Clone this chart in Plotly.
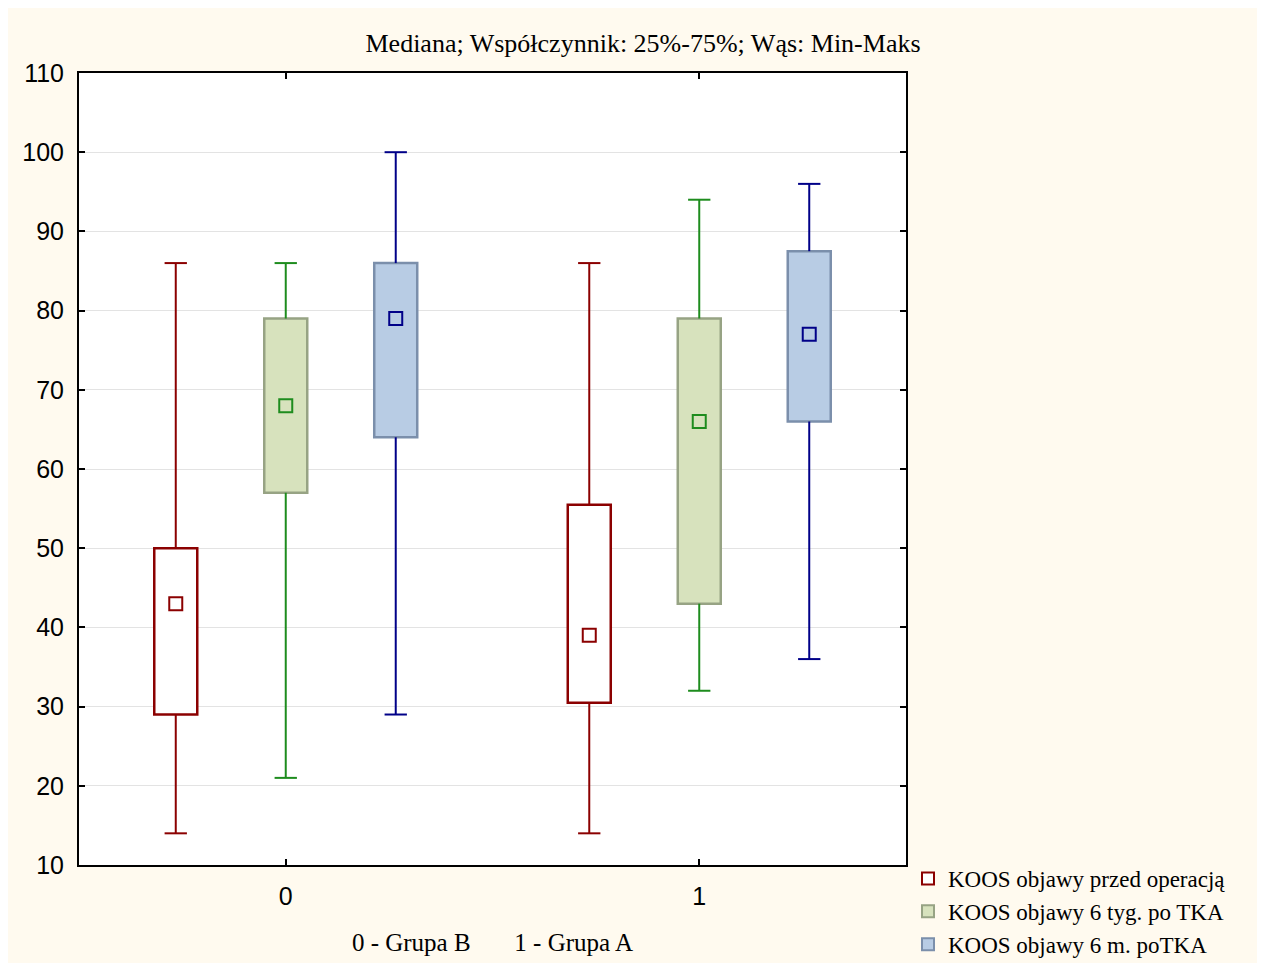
import plotly.graph_objects as go

# ---------------- data ----------------
groups = [0, 1]
group_labels = ["0", "1"]
series_names = ["KOOS objawy przed operacją", "KOOS objawy 6 tyg. po TKA", "KOOS objawy 6 m. poTKA"]

mins = {
    "pre": [14, 14],
    "w6": [21, 32],
    "m6": [29, 36],
}
q1s = {
    "pre": [29, 30.5],
    "w6": [57, 43],
    "m6": [64, 66],
}
medians = {
    "pre": [43, 39],
    "w6": [68, 66],
    "m6": [79, 77],
}
q3s = {
    "pre": [50, 55.5],
    "w6": [79, 79],
    "m6": [86, 87.5],
}
maxs = {
    "pre": [86, 86],
    "w6": [86, 94],
    "m6": [100, 96],
}
keys = ["pre", "w6", "m6"]

# ---------------- style ----------------
offsets = {"pre": -0.266, "w6": 0.0, "m6": 0.266}
box_fill = {"pre": "#ffffff", "w6": "#d7e2bd", "m6": "#b8cce4"}
box_line = {"pre": "#8b0000", "w6": "#97a384", "m6": "#7b8fab"}
whisk_col = {"pre": "#8b0000", "w6": "#1e8c1e", "m6": "#000088"}
box_w = 0.104
cap_half = 0.027

W, H = 1265, 1000
ML, MR, MT = 71, 367, 65
PLOT_BOTTOM = 857
MB = H - PLOT_BOTTOM
pw, ph = W - ML - MR, H - MT - MB

fig = go.Figure()

for k, name in zip(keys, series_names):
    xs = [g + offsets[k] for g in groups]
    wx, wy = [], []
    for i, x in enumerate(xs):
        wx += [x, x, None, x, x, None,
               x - cap_half, x + cap_half, None, x - cap_half, x + cap_half, None]
        wy += [mins[k][i], q1s[k][i], None, q3s[k][i], maxs[k][i], None,
               mins[k][i], mins[k][i], None, maxs[k][i], maxs[k][i], None]
    fig.add_trace(go.Scatter(x=wx, y=wy, mode="lines",
                             line=dict(color=whisk_col[k], width=2),
                             showlegend=False, hoverinfo="skip"))

for k, name in zip(keys, series_names):
    xs = [g + offsets[k] for g in groups]
    fig.add_trace(go.Bar(
        x=xs, y=[q3s[k][i] - q1s[k][i] for i in range(len(groups))],
        base=q1s[k], width=box_w, name=name,
        marker=dict(color=box_fill[k], line=dict(color=box_line[k], width=2.5)),
        hoverinfo="skip"))

for k in keys:
    xs = [g + offsets[k] for g in groups]
    fig.add_trace(go.Scatter(
        x=xs, y=medians[k], mode="markers",
        marker=dict(symbol="square-open", size=13, color=whisk_col[k],
                    line=dict(width=2, color=whisk_col[k])),
        showlegend=False, hoverinfo="skip"))


def px_x(p):
    return (p - ML) / pw


def px_y(p):
    return (PLOT_BOTTOM - p) / ph


fig.update_layout(
    width=W, height=H,
    margin=dict(l=ML, r=MR, t=MT, b=MB),
    paper_bgcolor="#fffaef",
    plot_bgcolor="#ffffff",
    barmode="overlay",
    title=dict(text="Mediana; Współczynnik: 25%-75%; Wąs: Min-Maks",
               x=0.502, xanchor="center", y=1 - 35 / H, yanchor="middle",
               font=dict(family="Liberation Serif", size=26, color="#000000")),
    showlegend=True,
    legend=dict(x=px_x(900), y=px_y(849), xanchor="left", yanchor="top",
                bgcolor="rgba(0,0,0,0)",
                font=dict(family="Liberation Serif", size=23, color="#000000"),
                tracegroupgap=0, itemsizing="constant"),
    xaxis=dict(range=[-0.5, 1.5], tickvals=groups, ticktext=group_labels,
               showgrid=False, zeroline=False,
               showline=True, linecolor="#000000", linewidth=2, mirror="ticks",
               ticks="inside", ticklen=6, tickwidth=2, tickcolor="#000000",
               ticklabelstandoff=8,
               tickfont=dict(family="Liberation Sans", size=25, color="#000000"),
               title=dict(text="0 - Grupa B       1 - Grupa A", standoff=24,
                          font=dict(family="Liberation Serif", size=25, color="#000000"))),
    yaxis=dict(range=[10, 110], dtick=10, tick0=10,
               showgrid=True, gridcolor="#e3e3e3", gridwidth=1, zeroline=False,
               showline=True, linecolor="#000000", linewidth=2, mirror="ticks",
               ticks="inside", ticklen=6, tickwidth=2, tickcolor="#000000",
               ticklabelstandoff=8,
               tickfont=dict(family="Liberation Sans", size=25, color="#000000")),
)

fig.write_html("out.html")
